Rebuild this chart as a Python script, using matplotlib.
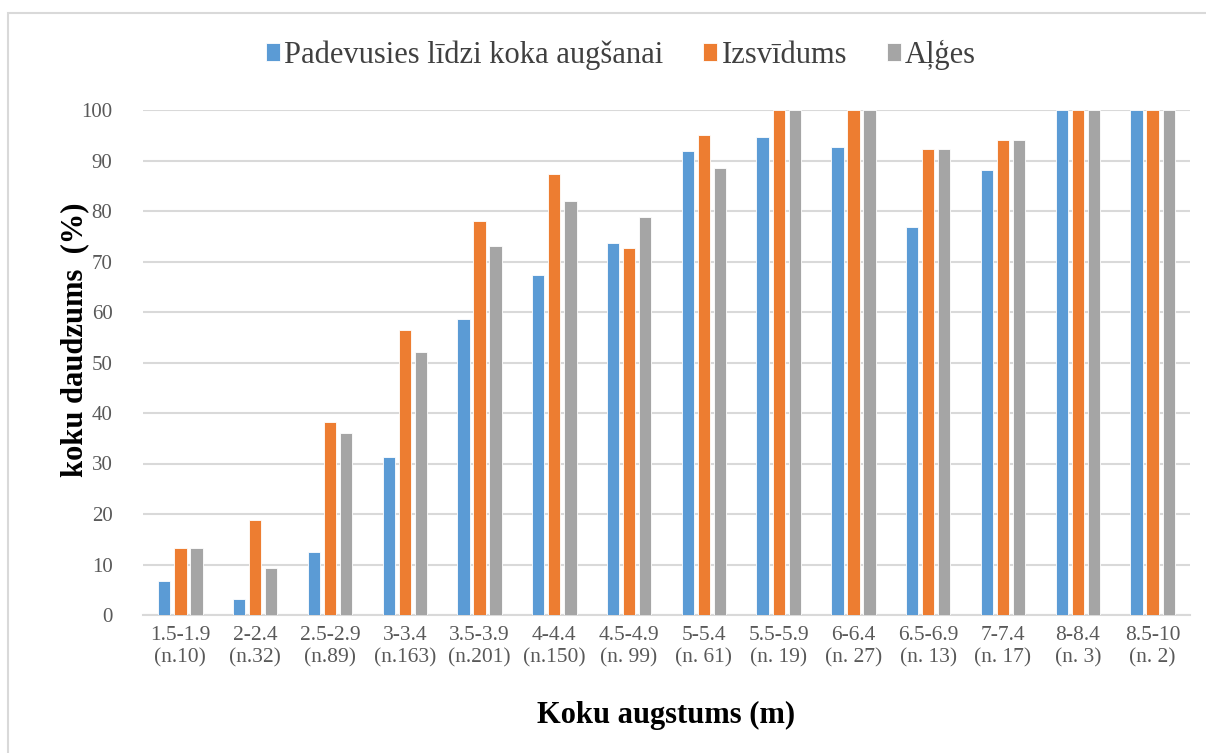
import matplotlib
matplotlib.use("Agg")
import matplotlib.pyplot as plt
from matplotlib.patches import Rectangle
import numpy as np

# height classes and sample sizes
classes = ["1.5-1.9", "2-2.4", "2.5-2.9", "3-3.4", "3.5-3.9", "4-4.4", "4.5-4.9",
           "5-5.4", "5.5-5.9", "6-6.4", "6.5-6.9", "7-7.4", "8-8.4", "8.5-10"]
counts = ["(n.10)", "(n.32)", "(n.89)", "(n.163)", "(n.201)", "(n.150)", "(n. 99)",
          "(n. 61)", "(n. 19)", "(n. 27)", "(n. 13)", "(n. 17)", "(n. 3)", "(n. 2)"]

# percentages per series
padevusies = [6.7, 3.1, 12.4, 31.3, 58.7, 67.3, 73.7, 91.8, 94.7, 92.6, 76.9, 88.2, 100, 100]
izsvidums = [13.3, 18.8, 38.2, 56.4, 78.1, 87.3, 72.7, 95.1, 100, 100, 92.3, 94.1, 100, 100]
alges = [13.3, 9.4, 36.0, 52.1, 73.1, 82.0, 78.8, 88.5, 100, 100, 92.3, 94.1, 100, 100]

series_names = ["Padevusies līdzi koka augšanai", "Izsvīdums", "Aļģes"]
colors = ["#5B9BD5", "#ED7D31", "#A5A5A5"]

plt.rcParams["font.family"] = ["Liberation Serif", "DejaVu Serif"]

fig = plt.figure(figsize=(12.06, 7.53), dpi=100)
# light frame around the chart
fig.patches.append(Rectangle((8 / 1206, -0.02), 1.05, (753 - 13) / 753 + 0.02,
                             transform=fig.transFigure, fill=False,
                             edgecolor="#D9D9D9", linewidth=1.5))

ax = fig.add_axes([143 / 1206, 138 / 753, 1047 / 1206, 505 / 753])

x = np.arange(len(classes))
w = 0.165
off = 0.215
for i, vals in enumerate([padevusies, izsvidums, alges]):
    ax.bar(x + (i - 1) * off, vals, w, color=colors[i], edgecolor="white",
           linewidth=0.6, label=series_names[i], zorder=3)

ax.set_xlim(-0.5, len(classes) - 0.5)
ax.set_ylim(0, 100)
ax.set_yticks(np.arange(0, 101, 10))
ax.yaxis.grid(True, color="#D9D9D9", linewidth=1.5, zorder=0)
for s in ["top", "right", "left"]:
    ax.spines[s].set_visible(False)
ax.spines["bottom"].set_color("#D9D9D9")
ax.spines["bottom"].set_linewidth(1.5)
ax.tick_params(axis="both", length=0, colors="#595959")
ax.tick_params(axis="y", pad=22, labelsize=15)
ax.tick_params(axis="x", pad=8, labelsize=15.5)
ax.set_xticks(x)
ax.set_xticklabels([c + "\n" + n for c, n in zip(classes, counts)], linespacing=1.2)

fig.text(75 / 1206, 1 - 340 / 753, "koku daudzums  (%)", rotation=90, ha="center",
         va="center", fontsize=22, fontweight="bold", color="black")
fig.text(666 / 1206, 1 - 715 / 753, "Koku augstums (m)", ha="center", va="center",
         fontsize=22, fontweight="bold", color="black")

fig.legend(loc="center", bbox_to_anchor=(621 / 1206, 1 - 55 / 753), ncol=3,
           frameon=False, fontsize=22, handlelength=0.45, handleheight=0.55,
           handletextpad=0.15, columnspacing=1.3, labelcolor="#404040")

fig.savefig("out.png", dpi=100)
